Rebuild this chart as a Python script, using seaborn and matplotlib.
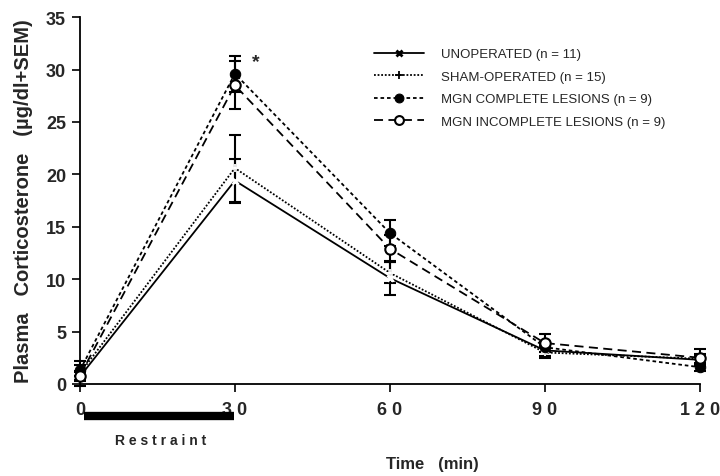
import matplotlib
matplotlib.use("Agg")
import matplotlib.pyplot as plt
import matplotlib.transforms as mtransforms
from matplotlib.lines import Line2D
import seaborn as sns
import pandas as pd

sns.set_style("ticks")
plt.rcParams['font.family'] = ['Liberation Sans', 'DejaVu Sans']

times = [0, 30, 60, 90, 120]
groups = ["UNOPERATED (n = 11)", "SHAM-OPERATED (n = 15)",
          "MGN COMPLETE LESIONS (n = 9)", "MGN INCOMPLETE LESIONS (n = 9)"]
unoperated = [0.7, 19.4, 10.1, 3.2, 2.3]
sham = [1.0, 20.6, 10.6, 3.0, 2.4]
complete = [1.3, 29.6, 14.4, 3.5, 1.6]
incomplete = [0.8, 28.5, 12.9, 3.9, 2.5]
sem_unoperated = [0.4, 2.1, 1.6, 0.5, 0.4]
sem_sham = [1.2, 3.2, 1.0, 0.5, 0.5]
sem_complete = [0.5, 1.7, 1.2, 0.5, 0.4]
sem_incomplete = [0.4, 2.3, 1.3, 0.9, 0.8]
xtick_labels = ["0", "3 0", "6 0", "9 0", "1 2 0"]
ytick_values = [0, 5, 10, 15, 20, 25, 30, 35]

series = [unoperated, sham, complete, incomplete]
sems = [sem_unoperated, sem_sham, sem_complete, sem_incomplete]

rows = []
for g, vals, ss in zip(groups, series, sems):
    for t, v, s in zip(times, vals, ss):
        rows.append({"Time": t, "Value": v, "SEM": s, "Group": g})
df = pd.DataFrame(rows)

fig = plt.figure(figsize=(7.2, 4.77), dpi=100)
ax = fig.add_axes([0.111, 0.193, 0.861, 0.769])

dash_list = ["", (1, 1), (2, 1.6), (5, 3)]
dashes = {g: d for g, d in zip(groups, dash_list)}
markers = {groups[0]: "X", groups[1]: "P", groups[2]: "o", groups[3]: "o"}
palette = {g: "black" for g in groups}

sns.lineplot(data=df, x="Time", y="Value", hue="Group", style="Group",
             dashes=dashes, markers=markers, palette=palette, ax=ax,
             linewidth=1.3, markersize=6, legend=False)

for line, g in zip(ax.get_lines(), groups):
    line.set_clip_on(False)
    line.set_zorder(3)
    if g == groups[0]:
        line.set_marker("x"); line.set_markersize(5); line.set_markeredgewidth(2)
    elif g == groups[1]:
        line.set_marker("+"); line.set_markersize(6); line.set_markeredgewidth(1.3)
    elif g == groups[2]:
        line.set_marker("o"); line.set_markersize(7.5)
        line.set_markerfacecolor("black"); line.set_markeredgecolor("black")
    else:
        line.set_marker("o"); line.set_markersize(7.5)
        line.set_markerfacecolor("white"); line.set_markeredgecolor("black")
        line.set_markeredgewidth(1.5)

for g, vals, ss in zip(groups, series, sems):
    eb = ax.errorbar(times, vals, yerr=ss, fmt="none", ecolor="black",
                     elinewidth=1.5, capsize=4, capthick=1.5, zorder=2)
    for art in eb.get_children():
        art.set_clip_on(False)

ax.set_xlim(0, 120)
ax.set_ylim(0, 35)
ax.set_xticks(times)
ax.set_xticklabels(xtick_labels, fontsize=13, fontweight="bold")
ax.set_yticks(ytick_values)
ax.set_yticklabels([str(v) for v in ytick_values], fontsize=13, fontweight="bold")
ax.tick_params(axis="x", direction="out", length=6, width=1.2, color="black", pad=6)
ax.tick_params(axis="y", direction="out", length=6, width=1.2, color="black", pad=4)
for sp in ["top", "right"]:
    ax.spines[sp].set_visible(False)
for sp in ["left", "bottom"]:
    ax.spines[sp].set_linewidth(1.3)
    ax.spines[sp].set_color("black")

ax.set_xlabel("")
ax.set_ylabel("Plasma   Corticosterone   (\u00b5g/dl+SEM)", fontsize=14.5,
              fontweight="bold", labelpad=9)
fig.text(432 / 720, 1 - 465 / 477, "Time   (min)", fontsize=12,
         fontweight="bold", ha="center", va="center")

trans = mtransforms.blended_transform_factory(ax.transData, ax.transAxes)
ax.plot([0.8, 29.8], [-0.088, -0.088], color="black", linewidth=6,
        solid_capstyle="butt", transform=trans, clip_on=False)
ax.text(15.7, -0.152, "R e s t r a i n t", transform=trans, ha="center",
        va="center", fontsize=10, fontweight="bold")

ax.text(34, 30.8, "*", fontsize=14, fontweight="bold", ha="center", va="center")

handles = []
for line, d in zip(ax.get_lines()[:4], dash_list):
    ls = "-" if d == "" else (0, d)
    h = Line2D([], [], color="black", linestyle=ls, linewidth=1.3,
               marker=line.get_marker(), markersize=line.get_markersize() * 0.85,
               markerfacecolor=line.get_markerfacecolor(),
               markeredgecolor="black",
               markeredgewidth=line.get_markeredgewidth())
    handles.append(h)
ax.legend(handles, groups, loc="upper left", bbox_to_anchor=(0.455, 0.948),
          frameon=False, fontsize=9.5, handlelength=3.8, labelspacing=0.78,
          handletextpad=1.3)

fig.savefig("out.png", dpi=100)
